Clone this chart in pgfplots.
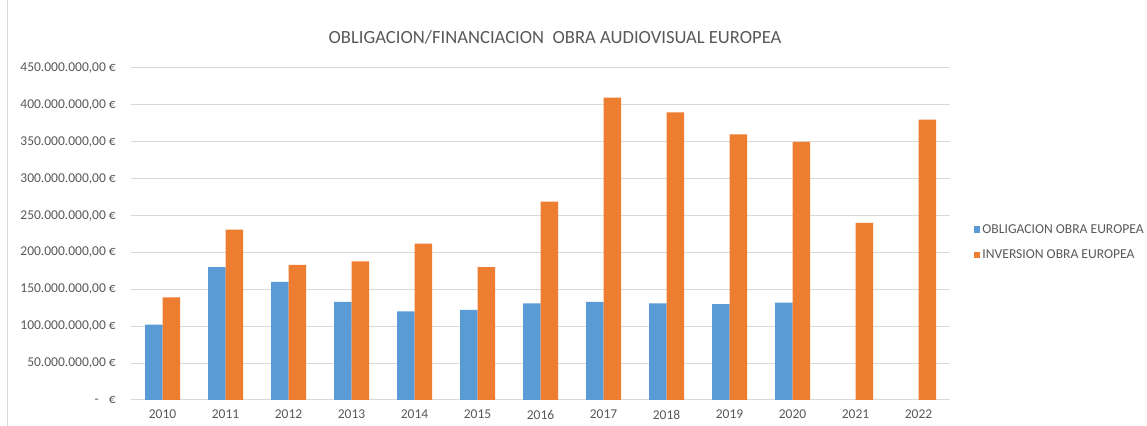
\documentclass[border=0pt]{standalone}
\usepackage{pgfplots}
\pgfplotsset{compat=1.18}
\usepackage{fontspec}
\setmainfont{Carlito}
\definecolor{cblue}{HTML}{5B9BD5}
\definecolor{corange}{HTML}{ED7D31}
\definecolor{gridc}{HTML}{D9D9D9}
\definecolor{txt}{HTML}{595959}
\begin{document}
\begin{tikzpicture}
\path[use as bounding box, fill=white] (0,0) rectangle (1147bp,426bp);
\draw[gridc, line width=1bp] (7.5bp,0) -- (7.5bp,426bp);
\node[txt, font=\fontsize{18.6bp}{21bp}\selectfont] at (555bp,389bp) {OBLIGACION/FINANCIACION\ \ OBRA AUDIOVISUAL EUROPEA};
\begin{axis}[
  at={(131bp,26bp)}, anchor=south west,
  scale only axis, width=819bp, height=332bp,
  xmin=-0.5, xmax=12.5, ymin=0, ymax=450,
  ybar=0pt, bar width=17.5bp,
  xtick={0,1,2,3,4,5,6,7,8,9,10,11,12},
  xticklabels={2010,2011,2012,2013,2014,2015,2016,2017,2018,2019,2020,2021,2022},
  ytick={0,50,100,150,200,250,300,350,400,450},
  yticklabels={{-\hspace{0.75em}€},{50.000.000,00 €},{100.000.000,00 €},{150.000.000,00 €},{200.000.000,00 €},{250.000.000,00 €},{300.000.000,00 €},{350.000.000,00 €},{400.000.000,00 €},{450.000.000,00 €}},
  ymajorgrids, grid style={gridc, line width=1bp},
  axis line style={draw=none},
  major tick length=0pt,
  tick label style={txt, font=\fontsize{13.5bp}{15bp}\selectfont, inner sep=0pt},
  yticklabel style={anchor=east},
  yticklabel shift=15bp,
  xticklabel style={anchor=north},
  xticklabel shift=10bp,
  legend style={at={(1.029,0.474)}, anchor=west, draw=none, fill=none, inner sep=0pt,
    font=\fontsize{13.6bp}{15bp}\selectfont, text=txt, row sep=11bp,
    legend cell align=left},
  legend image code/.code={\fill[#1] (0bp,-3bp) rectangle (6.5bp,3.5bp);},
]
\addplot[fill=cblue, draw=none] coordinates {(0,102) (1,180) (2,160) (3,133) (4,120) (5,122) (6,131) (7,133) (8,131) (9,130) (10,132)};
\addplot[fill=corange, draw=none] coordinates {(0,139) (1,231) (2,183) (3,188) (4,212) (5,180) (6,269) (7,410) (8,390) (9,360) (10,350) (11,240) (12,380)};
\legend{OBLIGACION OBRA EUROPEA, INVERSION OBRA EUROPEA}
\end{axis}
\end{tikzpicture}
\end{document}
